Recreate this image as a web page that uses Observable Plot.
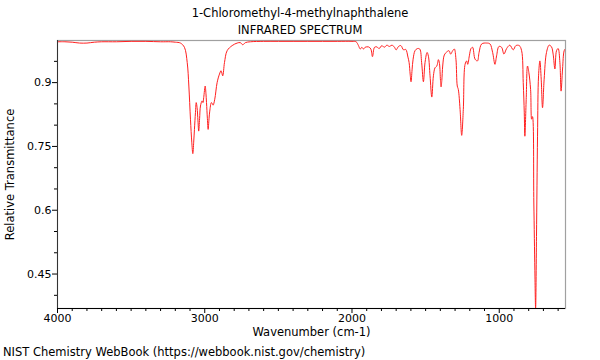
<!DOCTYPE html>
<html>
<head>
<meta charset="utf-8">
<script src="https://cdn.jsdelivr.net/npm/d3@7"></script>
<script src="https://cdn.jsdelivr.net/npm/@observablehq/plot@0.6"></script>
<style>
  body { margin: 0; background: #fff; font-family: "DejaVu Sans", sans-serif; }
  #wrap { position: relative; width: 600px; height: 360px; overflow: hidden; }
  #wrap svg { position: absolute; left: 0; top: 0; }
  .t { position: absolute; left: 0; width: 600px; text-align: center; font-size: 11.5px; color: #000; line-height: 1; }
  #cap { position: absolute; left: 3px; top: 347px; font-size: 11.5px; line-height: 1; color: #000; }
</style>
</head>
<body>
<div id="wrap">
  <div class="t" style="top:8px">1-Chloromethyl-4-methylnaphthalene</div>
  <div class="t" style="top:25px">INFRARED SPECTRUM</div>
  <div id="cap">NIST Chemistry WebBook (https://webbook.nist.gov/chemistry)</div>
</div>
<script>
const titleText = "1-Chloromethyl-4-methylnaphthalene";
const xLabel = "Wavenumber (cm-1)";
const yLabel = "Relative Transmittance";
const xMajorTicks = [4000, 3000, 2000, 1000];
const yMajorTicks = [0.45, 0.6, 0.75, 0.9];
const yTickLabels = ["0.45", "0.6", "0.75", "0.9"];

const wavenumber = [
  4000, 3950, 3900, 3850, 3800, 3750, 3700, 3600, 3500, 3400, 3300, 3233, 3200,
  3165, 3138, 3119, 3108, 3097, 3088, 3081, 3075, 3070, 3063, 3058, 3052, 3046,
  3041, 3035, 3029, 3018, 3012, 3007, 2997, 2992, 2988, 2982, 2977, 2971, 2966,
  2955, 2948, 2943, 2932, 2916, 2900, 2889, 2878, 2866, 2848, 2814, 2780, 2758,
  2742, 2724, 2690, 2600, 2500, 2400, 2300, 2200, 2100, 2000, 1972, 1956, 1944,
  1933, 1922, 1911, 1888, 1872, 1861, 1847, 1831, 1816, 1797, 1781, 1763, 1746,
  1729, 1713, 1700, 1684, 1668, 1650, 1635, 1620, 1612, 1605, 1599, 1592, 1585,
  1572, 1556, 1540, 1527, 1515, 1504, 1490, 1481, 1470, 1458, 1447, 1436, 1424,
  1413, 1406, 1399, 1395, 1390, 1384, 1373, 1357, 1341, 1330, 1316, 1305, 1294,
  1285, 1278, 1266, 1255, 1244, 1232, 1221, 1214, 1203, 1192, 1181, 1164, 1148,
  1137, 1119, 1085, 1063, 1045, 1029, 1018, 1002, 984, 968, 950, 928, 905, 887,
  864, 848, 837, 830, 826, 817, 808, 799, 787, 780, 774, 765, 758, 753, 747, 740,
  733, 724, 715, 706, 695, 679, 661, 645, 634, 622, 611, 600, 588, 580, 570, 559,
  550
];
const transmittance = [
  0.996, 0.996, 0.995, 0.993, 0.993, 0.995, 0.996, 0.996, 0.997, 0.997, 0.996, 0.996, 0.995,
  0.993, 0.983, 0.947, 0.892, 0.814, 0.760, 0.733, 0.760, 0.790, 0.830, 0.853, 0.841, 0.810,
  0.786, 0.815, 0.845, 0.857, 0.853, 0.865, 0.892, 0.875, 0.853, 0.815, 0.790, 0.815, 0.833,
  0.853, 0.850, 0.847, 0.861, 0.900, 0.920, 0.928, 0.916, 0.947, 0.975, 0.987, 0.993, 0.994,
  0.989, 0.994, 0.996, 0.997, 0.997, 0.997, 0.997, 0.997, 0.997, 0.997, 0.996, 0.987, 0.979,
  0.983, 0.979, 0.983, 0.984, 0.979, 0.961, 0.983, 0.984, 0.980, 0.987, 0.983, 0.988, 0.985,
  0.988, 0.984, 0.977, 0.985, 0.987, 0.977, 0.978, 0.960, 0.947, 0.920, 0.902, 0.930, 0.955,
  0.975, 0.980, 0.979, 0.947, 0.902, 0.947, 0.971, 0.962, 0.916, 0.866, 0.916, 0.935, 0.939,
  0.954, 0.945, 0.905, 0.890, 0.905, 0.939, 0.965, 0.972, 0.975, 0.967, 0.975, 0.979, 0.955,
  0.892, 0.884, 0.837, 0.776, 0.837, 0.943, 0.951, 0.943, 0.963, 0.980, 0.983, 0.955, 0.951,
  0.971, 0.991, 0.993, 0.991, 0.971, 0.943, 0.963, 0.985, 0.983, 0.967, 0.980, 0.988, 0.977, 0.987,
  0.987, 0.975, 0.900, 0.829, 0.774, 0.860, 0.939, 0.924, 0.884, 0.814, 0.820, 0.617, 0.459, 0.369, 0.538, 0.774,
  0.916, 0.951, 0.908, 0.841, 0.908, 0.971, 0.988, 0.984, 0.967, 0.932, 0.975, 0.980, 0.947, 0.880, 0.932, 0.975,
  0.980
];

const spectrum = wavenumber.map((w, i) => ({w, t: transmittance[i]}));
const xDomain = [4000, 550];
const yDomain = [0.369, 0.999];
const xMinor = d3.range(4000, 549, -100).filter(v => v % 1000 !== 0);
const yMinor = [0.4, 0.5, 0.55, 0.65, 0.7, 0.8, 0.85, 0.95];

const chart = Plot.plot({
  width: 600,
  height: 360,
  marginTop: 40,
  marginBottom: 52,
  marginLeft: 57,
  marginRight: 35,
  style: {fontFamily: "DejaVu Sans, sans-serif", fontSize: "11px", color: "#000", background: "transparent"},
  x: {domain: xDomain},
  y: {domain: yDomain},
  marks: [
    Plot.frame({stroke: "#a0a0a0", strokeWidth: 1.2}),
    Plot.line(spectrum, {x: "w", y: "t", stroke: "#ff2020", strokeWidth: 1, curve: "catmull-rom", clip: true}),
    Plot.ruleX([xDomain[0]], {stroke: "#333", strokeWidth: 1}),
    Plot.ruleY([yDomain[0]], {stroke: "#000", strokeWidth: 1}),
    Plot.axisX({ticks: xMajorTicks, tickSize: 5, tickPadding: 1, tickFormat: d => String(d), label: null, fontSize: 11}),
    Plot.axisX({ticks: xMinor, tickSize: 3, tickFormat: () => "", label: null}),
    Plot.axisY({ticks: yMajorTicks, tickSize: 5, tickPadding: 1, tickFormat: d => yTickLabels[yMajorTicks.indexOf(d)], label: null, fontSize: 11}),
    Plot.axisY({ticks: yMinor, tickSize: 3, tickFormat: () => "", label: null}),
    Plot.text([xLabel], {frameAnchor: "bottom", dy: 24, lineAnchor: "middle", fontSize: 11.5}),
    Plot.text([yLabel], {frameAnchor: "left", dx: -47, rotate: -90, textAnchor: "middle", lineAnchor: "middle", fontSize: 11.5})
  ]
});
document.getElementById("wrap").prepend(chart);
</script>
</body>
</html>
